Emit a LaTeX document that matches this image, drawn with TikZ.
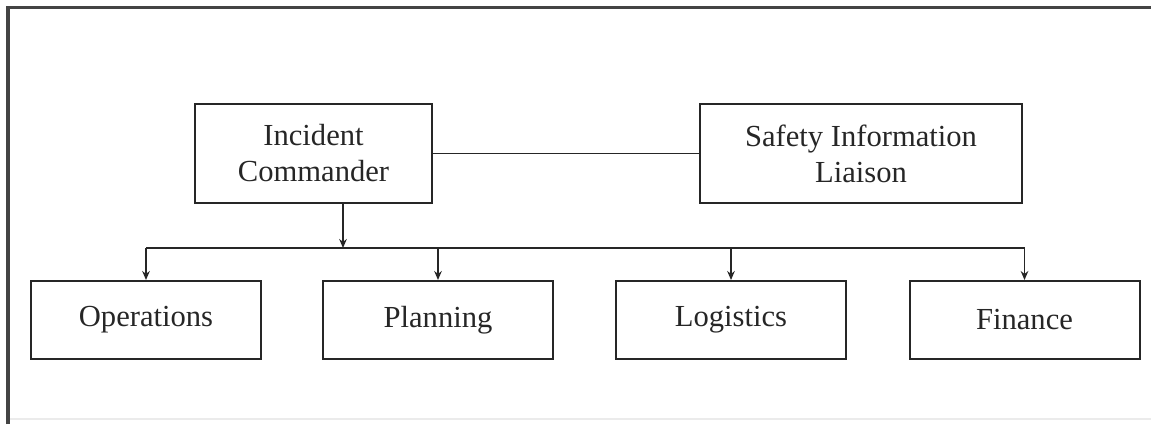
\documentclass[tikz,border=0pt]{standalone}
\usepackage{fontspec}
\setmainfont{Liberation Serif}
\usetikzlibrary{arrows.meta}
\definecolor{ink}{HTML}{262626}
\definecolor{frame}{HTML}{444444}
\begin{document}
\begin{tikzpicture}[x=0.5pt,y=-0.5pt,
  box/.style={draw=ink,line width=1pt,rectangle,inner sep=0pt,
    text=ink,font=\fontsize{15.3}{18}\selectfont,align=center},
  topbox/.style={box,minimum height=49.5pt},
  unitbox/.style={box,minimum width=115pt,minimum height=39pt},
  link/.style={draw=ink,line width=0.9pt},
  feed/.style={link,-{Stealth[length=4.5pt,width=3.8pt]}}]
\useasboundingbox (0,0) rectangle (1151,424);
% page frame
\draw[frame,line width=1.6pt] (8,424) -- (8,7.5) -- (1151,7.5);
\draw[black!8,line width=0.6pt] (10,419) -- (1151,419);
% command level
\node[topbox,minimum width=118.5pt] (ic) at (313.5,153.5) {Incident\\Commander};
\node[topbox,minimum width=161pt] (sil) at (861,153.5) {Safety Information\\Liaison};
% sections
\node[unitbox] (ops) at (146,320) {Operations};
\node[unitbox] (plan) at (438,320) {Planning};
\node[unitbox] (logi) at (731,320) {Logistics};
\node[unitbox] (fin) at (1024.5,320) {Finance};
% connectors
\draw[link] (ic.east) -- (sil.west);
\coordinate (j) at (343,248);
\draw[feed] (j |- ic.south) -- (j);
\draw[link] (ops.north |- j) -- (fin.north |- j);
\foreach \n in {ops,plan,logi,fin}
  \draw[feed] (\n.north |- j) -- (\n.north);
\end{tikzpicture}
\end{document}
